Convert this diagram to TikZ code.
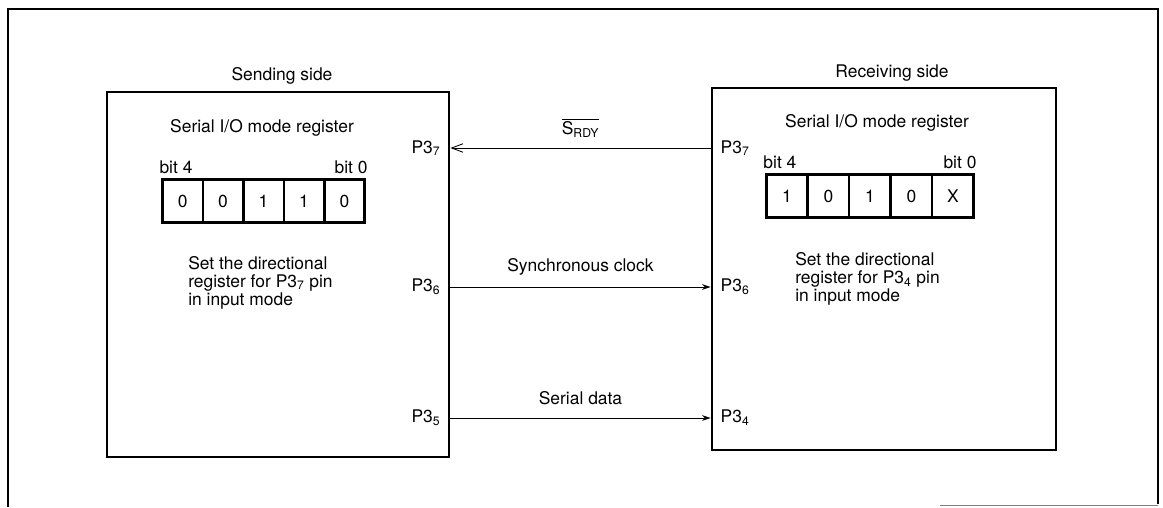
\documentclass[tikz,border=0pt]{standalone}
\usepackage{fontspec}
\setmainfont{TeX Gyre Heros}
\usetikzlibrary{positioning, arrows.meta, fit}
\tikzset{
    every node/.style={font=\fontsize{12.4}{12.8}\selectfont},
    side/.style={draw, line width=2pt, inner sep=0pt}, % the two boxes
    cell/.style={draw, line width=0.9pt, minimum height=1.05cm, inner sep=0pt},
    reg/.style={draw, line width=2.4pt, inner sep=0pt},
    pin/.style={inner sep=1pt},
    sig/.style={line width=0.6pt, -{Stealth[length=6pt, width=4pt]}},
    rdy/.style={line width=0.6pt, -{Straight Barb[length=8pt, width=6pt]}}
}

\begin{document}
\begin{tikzpicture}[x=0.025cm, y=-0.025cm]
        \useasboundingbox (0,0) rectangle (1163,507);
        % outer frame
        \draw[line width=1.4pt] (8,507) -- (8,9) -- (1158,9) -- (1158,504);
        \draw[line width=0.6pt, gray] (940,505) -- (1158,505);

        % sending side
        \node[side, minimum width=8.55cm, minimum height=9.125cm] (lbox) at (278,274.5) {};
        \node (ltitle) at (282,76) {Sending side};
        \node (lmode) at (262,128) {Serial I/O mode register};

        \node[cell, minimum width=0.98cm] (l1) at (182.6,201) {0};
        \node[cell, minimum width=0.98cm] (l2) [right=0pt of l1] {0};
        \node[cell, minimum width=0.98cm] (l3) [right=0pt of l2] {1};
        \node[cell, minimum width=0.98cm] (l4) [right=0pt of l3] {1};
        \node[cell, minimum width=0.98cm] (l5) [right=0pt of l4] {0};
        \node[reg, fit=(l1)(l5)] (lreg) {};
        \node[inner sep=0pt] (lbit4) [above right=2.5pt and -1pt of lreg.north west] {bit 4};
        \node[inner sep=0pt] (lbit0) [above left=2.5pt and -1pt of lreg.north east] {bit 0};

        \node[anchor=north west, align=left, inner sep=0pt] (ltext) at (188,256)
            {Set the directional\\register for P3\textsubscript{7} pin\\in input mode};

        \node[pin, anchor=east] (lp7) at (442,148) {P3\textsubscript{7}};
        \node[pin, anchor=east] (lp6) at (442,287) {P3\textsubscript{6}};
        \node[pin, anchor=east] (lp5) at (442,418) {P3\textsubscript{5}};

        % receiving side
        \node[side, minimum width=8.6cm, minimum height=9.05cm] (rbox) at (884,269) {};
        \node (rtitle) at (892,73) {Receiving side};
        \node (rmode) at (877,123) {Serial I/O mode register};

        \node[cell, minimum width=1.005cm] (r1) at (787,196) {1};
        \node[cell, minimum width=1.005cm] (r2) [right=0pt of r1] {0};
        \node[cell, minimum width=1.005cm] (r3) [right=0pt of r2] {1};
        \node[cell, minimum width=1.005cm] (r4) [right=0pt of r3] {0};
        \node[cell, minimum width=1.005cm] (r5) [right=0pt of r4] {X};
        \node[reg, fit=(r1)(r5)] (rreg) {};
        \node[inner sep=0pt] (rbit4) [above right=2.5pt and -1pt of rreg.north west] {bit 4};
        \node[inner sep=0pt] (rbit0) [above left=2.5pt and -1pt of rreg.north east] {bit 0};

        \node[anchor=north west, align=left, inner sep=0pt] (rtext) at (795,252)
            {Set the directional\\register for P3\textsubscript{4} pin\\in input mode};

        \node[pin, anchor=west] (rp7) at (719,148) {P3\textsubscript{7}};
        \node[pin, anchor=west] (rp6) at (719,287) {P3\textsubscript{6}};
        \node[pin, anchor=west] (rp4) at (719,418) {P3\textsubscript{4}};

        % signals
        \draw[rdy] (rp7.west -| rbox.west) -- node[above=4pt] (srdy) {$\overline{\mbox{S\textsubscript{RDY}}}$} (lp7.east -| lbox.east);
        \draw[sig] (lp6.east -| lbox.east) -- node[above=5pt] (clk) {Synchronous clock} (rp6.west -| rbox.west);
        \draw[sig] (lp5.east -| lbox.east) -- node[above=6pt] (data) {Serial data} (rp4.west -| rbox.west);
    \end{tikzpicture}
\end{document}
